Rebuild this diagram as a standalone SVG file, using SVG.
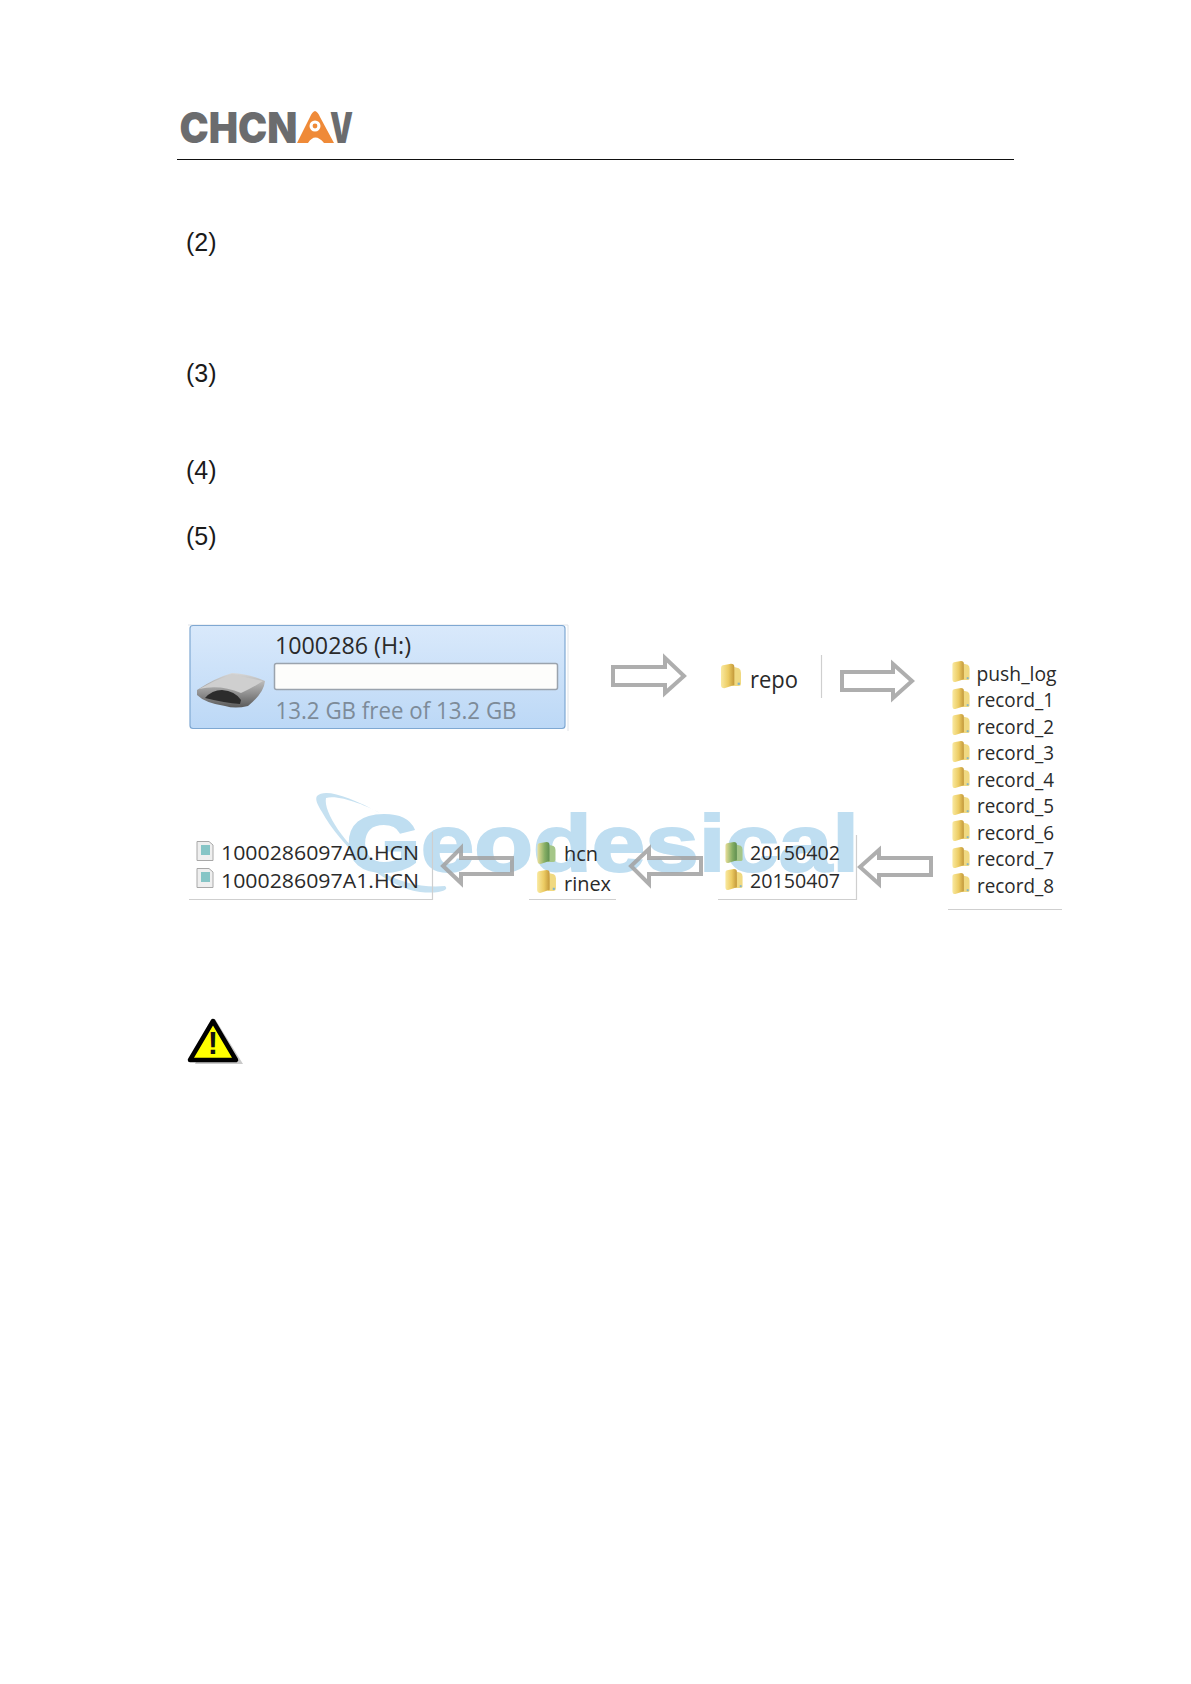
<svg xmlns="http://www.w3.org/2000/svg" width="1191" height="1684" viewBox="0 0 1191 1684">
<style>
.num{font-family:"Liberation Sans",Arial,sans-serif;font-size:25px;fill:#1a1a1a}
.ui{font-family:"Open Sans","Noto Sans",sans-serif;fill:#2a2a2a}
.row{font-size:20px}
.arrow{fill:none;stroke:#a3a3a3;stroke-width:4;stroke-opacity:.88;stroke-linejoin:miter}
.edge{stroke:#cfcfcf;stroke-width:1.2;fill:none}
</style>
<defs>
<linearGradient id="panel" x1="0" y1="0" x2="0" y2="1"><stop offset="0" stop-color="#d9e9fb"/><stop offset="1" stop-color="#bcd8f6"/></linearGradient>
<linearGradient id="fold" x1="0" y1="0" x2="1" y2="0"><stop offset="0" stop-color="#f9e9a0"/><stop offset=".55" stop-color="#eccb62"/><stop offset="1" stop-color="#c3983a"/></linearGradient>
<linearGradient id="foldg" x1="0" y1="0" x2="1" y2="0"><stop offset="0" stop-color="#e9df9a"/><stop offset=".6" stop-color="#86ae64"/><stop offset="1" stop-color="#5f8f50"/></linearGradient>
<linearGradient id="metal" x1="0" y1="0" x2="0" y2="1"><stop offset="0" stop-color="#d8d8d8"/><stop offset=".6" stop-color="#8f8f8f"/><stop offset="1" stop-color="#5a5a5a"/></linearGradient>
<symbol id="folder" viewBox="0 0 18 22" overflow="visible">
<path d="M12 3 L16 4 Q18 5 18 8 L18 18 Q18 20 16 20 L10 20 Z" fill="#f0d981"/>
<path d="M0 4 Q0 1 3 1 L9 0 Q12 0 12 3 L12 19 L3 22 Q0 22 0 19Z" fill="url(#fold)"/>
<path d="M15 17 h2 v2 h-2z" fill="#7fb3c8"/>
</symbol>
<symbol id="foldergreen" viewBox="0 0 18 22" overflow="visible">
<path d="M12 3 L16 4 Q18 5 18 8 L18 18 Q18 20 16 20 L10 20 Z" fill="#a5c688"/>
<path d="M0 4 Q0 1 3 1 L9 0 Q12 0 12 3 L12 19 L3 22 Q0 22 0 19Z" fill="url(#foldg)"/>
</symbol>
<symbol id="fileicon" viewBox="0 0 18 20" overflow="visible">
<path d="M1 .5H13L17 4V19.5H1Z" fill="#efefef" stroke="#a8a8a8"/>
<rect x="5" y="4" width="9" height="10" fill="#86c5c6"/>
</symbol>
</defs>
<rect width="1191" height="1684" fill="#fff"/>

<g id="logo">
<text x="179.500" y="142.500" font-family="Inter,'Liberation Sans',sans-serif" font-weight="900" font-size="42" fill="#6b6c6e" textLength="118" lengthAdjust="spacingAndGlyphs">CHCN</text>
<path d="M315 111 Q318 112 320 117 L334 143 L324 143 Q315 132 308 143 L297 143 L310 117 Q312 112 315 111Z" fill="#ef8a38"/>
<circle cx="315" cy="126" r="5.5" fill="#fff"/><circle cx="315" cy="126" r="2.4" fill="#ef8a38"/>
<text x="330" y="142.500" font-family="Inter,'Liberation Sans',sans-serif" font-weight="900" font-size="42" fill="#6b6c6e" textLength="23" lengthAdjust="spacingAndGlyphs">V</text>
</g>
<line id="header-rule" x1="177" y1="159.5" x2="1014" y2="159.5" stroke="#111" stroke-width="1"/>

<g id="step-labels">
<text class="num" x="186" y="251">(2)</text>
<text class="num" x="186" y="382">(3)</text>
<text class="num" x="186" y="479">(4)</text>
<text class="num" x="186" y="545">(5)</text>
</g>

<g id="watermark">
<path d="M317 796 C325 788 350 797 380 813 C368 806 338 794 326 798 C323 812 345 845 375 868 C400 884 425 888 445 886 C450 890 440 894 420 892 C385 888 340 845 322 812 C317 804 315 799 317 796Z" fill="#c6e1f1"/>
<text x="346" y="871" font-family="'Liberation Sans',sans-serif" font-weight="700" font-size="80" fill="#bfdef1" stroke="#bfdef1" stroke-width="2" textLength="513" lengthAdjust="spacingAndGlyphs">Geodesical</text>
</g>

<g id="drive">
<path d="M188 625H568V731" fill="none" stroke="#dfe3e8"/>
<rect x="190" y="625.5" width="375" height="103" rx="3" fill="url(#panel)" stroke="#7fa8d2" stroke-width="1.2"/>
<path d="M197 690 Q215 678 232 673 Q250 674 265 681 Q264 693 248 706 Q235 709 225 706 Q205 703 197 695Z" fill="url(#metal)"/>
<path d="M199 689 Q215 680 232 674 L263 681 Q252 688 241 693 Q220 684 199 689Z" fill="#cfcfcf"/>
<path d="M205 698 Q212 690 222 690 Q235 691 241 700 L240 704 Q225 703 205 698Z" fill="#2c2c2c"/>
<rect x="274.500" y="663.500" width="283" height="26" rx="2" fill="#fdfdfb" stroke="#9aa3ad" stroke-width="1.5"/>
<text class="ui" x="275" y="653.500" font-size="24" textLength="136" lengthAdjust="spacingAndGlyphs">1000286 (H:)</text>
<text class="ui" x="275.500" y="718.500" font-size="24" style="fill:#7d8b99" textLength="241" lengthAdjust="spacingAndGlyphs">13.2 GB free of 13.2 GB</text>
</g>

<g id="repo">
<use href="#folder" x="721" y="663" width="20" height="26"/>
<text class="ui" x="750" y="687.500" font-size="24" textLength="48" lengthAdjust="spacingAndGlyphs">repo</text>
<line class="edge" x1="821.500" y1="655" x2="821.500" y2="698"/>
</g>

<g id="records">
<use href="#folder" x="952" y="661" width="18" height="21"/><text class="ui row" x="976.500" y="681" textLength="80" lengthAdjust="spacingAndGlyphs">push_log</text>
<use href="#folder" x="952" y="688" width="18" height="21"/><text class="ui row" x="977" y="707" textLength="77" lengthAdjust="spacingAndGlyphs">record_1</text>
<use href="#folder" x="952" y="714" width="18" height="21"/><text class="ui row" x="977" y="733.500" textLength="77" lengthAdjust="spacingAndGlyphs">record_2</text>
<use href="#folder" x="952" y="741" width="18" height="21"/><text class="ui row" x="977" y="760" textLength="77" lengthAdjust="spacingAndGlyphs">record_3</text>
<use href="#folder" x="952" y="767" width="18" height="21"/><text class="ui row" x="977" y="786.500" textLength="77" lengthAdjust="spacingAndGlyphs">record_4</text>
<use href="#folder" x="952" y="794" width="18" height="21"/><text class="ui row" x="977" y="813" textLength="77" lengthAdjust="spacingAndGlyphs">record_5</text>
<use href="#folder" x="952" y="820" width="18" height="21"/><text class="ui row" x="977" y="839.500" textLength="77" lengthAdjust="spacingAndGlyphs">record_6</text>
<use href="#folder" x="952" y="847" width="18" height="21"/><text class="ui row" x="977" y="866" textLength="77" lengthAdjust="spacingAndGlyphs">record_7</text>
<use href="#folder" x="952" y="873" width="18" height="21"/><text class="ui row" x="977" y="892.500" textLength="77" lengthAdjust="spacingAndGlyphs">record_8</text>
<line class="edge" x1="948" y1="909.500" x2="1062" y2="909.500"/>
</g>

<g id="dates">
<use href="#foldergreen" x="725" y="842" width="18" height="21"/><text class="ui row" x="750" y="860" textLength="90" lengthAdjust="spacingAndGlyphs">20150402</text>
<use href="#folder" x="725" y="869" width="18" height="21"/><text class="ui row" x="750" y="888" textLength="90" lengthAdjust="spacingAndGlyphs">20150407</text>
<path class="edge" d="M718 899.500H856.500V835"/>
</g>

<g id="formats">
<use href="#foldergreen" x="537" y="842" width="19" height="22"/><text class="ui row" x="564" y="861" textLength="34" lengthAdjust="spacingAndGlyphs">hcn</text>
<use href="#folder" x="537" y="870" width="19" height="23"/><text class="ui row" x="564" y="891" textLength="47" lengthAdjust="spacingAndGlyphs">rinex</text>
<line class="edge" x1="529" y1="899.500" x2="616" y2="899.500"/>
</g>

<g id="files">
<use href="#fileicon" x="196" y="841" width="18" height="20"/><text class="ui row" x="221" y="860" textLength="198" lengthAdjust="spacingAndGlyphs">1000286097A0.HCN</text>
<use href="#fileicon" x="196" y="868" width="18" height="20"/><text class="ui row" x="221" y="888" textLength="198" lengthAdjust="spacingAndGlyphs">1000286097A1.HCN</text>
<path class="edge" d="M189 899.500H432.500V832"/>
</g>

<g id="connectors">
<polygon class="arrow" points="613,667 665,667 665,658 684,676 665,693 665,685 613,685"/>
<polygon class="arrow" points="842,672 893,672 893,664 912,681 893,698 893,690 842,690"/>
<polygon class="arrow" points="931,858 879,858 879,850 860,867 879,884 879,875 931,875"/>
<polygon class="arrow" points="701,858 649,858 649,849 631,866 649,884 649,874 701,874"/>
<polygon class="arrow" points="512,858 461,858 461,848 443,866 461,883 461,874 512,874"/>
</g>

<g id="warning">
<polygon points="215,1019 243,1064 195,1064" fill="#c9c9c9"/>
<polygon points="213,1021 236,1060 190,1060" fill="#ffff00" stroke="#000" stroke-width="4.500" stroke-linejoin="round"/>
<text x="213" y="1054" font-family="'Liberation Sans',sans-serif" font-weight="700" font-size="31" text-anchor="middle" fill="#111">!</text>
</g>
</svg>
